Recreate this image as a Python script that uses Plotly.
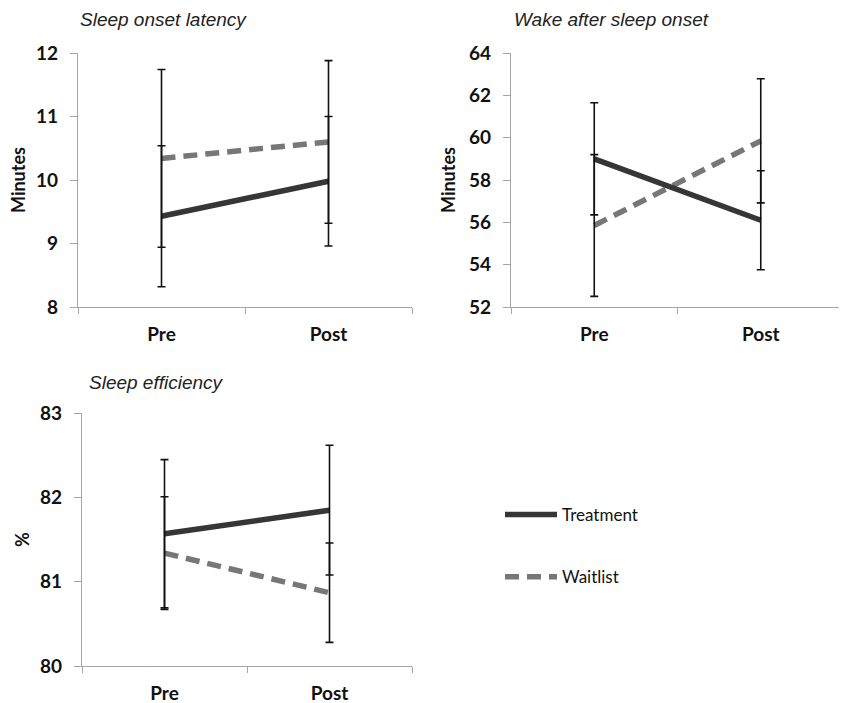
import plotly.graph_objects as go

W, H = 847, 703
OFF = 8  # page body margin offset

categories = ["Pre", "Post"]

# Sleep onset latency (minutes)
sol_treatment = [9.43, 9.98]
sol_treatment_err = [1.11, 1.02]
sol_waitlist = [10.34, 10.60]
sol_waitlist_err = [1.40, 1.28]

# Wake after sleep onset (minutes)
waso_treatment = [59.0, 56.1]
waso_treatment_err = [2.65, 2.34]
waso_waitlist = [55.85, 59.85]
waso_waitlist_err = [3.35, 2.93]

# Sleep efficiency (%)
se_treatment = [81.57, 81.85]
se_treatment_err = [0.88, 0.77]
se_waitlist = [81.34, 80.87]
se_waitlist_err = [0.67, 0.59]

panel_titles = ["Sleep onset latency", "Wake after sleep onset", "Sleep efficiency"]
y_titles = ["Minutes", "Minutes", "%"]
y_ranges = [[8, 12], [52, 64], [80, 83]]
y_dticks = [1, 2, 1]
series_names = ["Treatment", "Waitlist"]

TREAT_COLOR = "#363636"
WAIT_COLOR = "#777777"
AXIS_COLOR = "#a6a6a6"
FONT_BOLD = "Lato"


def px(xp):
    return (xp - OFF) / W


def py(yp):
    return 1 - (yp - OFF) / H


panels = [
    (sol_treatment, sol_treatment_err, sol_waitlist, sol_waitlist_err),
    (waso_treatment, waso_treatment_err, waso_waitlist, waso_waitlist_err),
    (se_treatment, se_treatment_err, se_waitlist, se_waitlist_err),
]

fig = go.Figure()

for i, (tv, te, wv, we) in enumerate(panels):
    xa = "x" if i == 0 else f"x{i+1}"
    ya = "y" if i == 0 else f"y{i+1}"
    show = i == 0
    fig.add_trace(go.Scatter(
        x=categories, y=wv, mode="lines", name=series_names[1],
        line=dict(color=WAIT_COLOR, width=5.5, dash="14px,8px"),
        xaxis=xa, yaxis=ya, showlegend=show, legendgroup="w", legendrank=2,
        hoverinfo="skip"))
    fig.add_trace(go.Scatter(
        x=categories, y=tv, mode="lines", name=series_names[0],
        line=dict(color=TREAT_COLOR, width=5.5),
        xaxis=xa, yaxis=ya, showlegend=show, legendgroup="t", legendrank=1,
        hoverinfo="skip"))
    for vals, errs in ((wv, we), (tv, te)):
        fig.add_trace(go.Scatter(
            x=categories, y=vals, mode="markers",
            marker=dict(size=1, opacity=0),
            error_y=dict(type="data", array=errs, symmetric=True,
                         color="#111111", thickness=1.6, width=4),
            xaxis=xa, yaxis=ya, showlegend=False, hoverinfo="skip"))

x_domains = [[px(78), px(412)], [px(511), px(844)], [px(82), px(412)]]
y_domains = [[py(307), py(53)], [py(307), py(53)], [py(666), py(413.3)]]

layout = dict(
    width=W, height=H,
    margin=dict(l=0, r=0, t=0, b=0, autoexpand=False),
    paper_bgcolor="white", plot_bgcolor="white",
    font=dict(family=FONT_BOLD, color="#000000"),
    legend=dict(x=px(500), y=py(497), xanchor="left", yanchor="top",
                font=dict(family="Lato", size=17, color="#111111"),
                tracegroupgap=37, traceorder="grouped", bgcolor="rgba(0,0,0,0)",
                itemwidth=52),
    annotations=[],
)

title_pos = [(78, 20), (512, 20), (87, 382)]
ytitle_pos = [(18, 180), (448, 180), (22, 540)]

for i in range(3):
    xk = "xaxis" if i == 0 else f"xaxis{i+1}"
    yk = "yaxis" if i == 0 else f"yaxis{i+1}"
    ya = "y" if i == 0 else f"y{i+1}"
    xa = "x" if i == 0 else f"x{i+1}"
    layout[xk] = dict(
        domain=x_domains[i], anchor=ya, type="category",
        categoryorder="array", categoryarray=categories,
        range=[-0.5, 1.5], tickson="boundaries", automargin=False,
        showline=True, linecolor=AXIS_COLOR, linewidth=1.2,
        ticks="outside", ticklen=6, tickcolor=AXIS_COLOR, tickwidth=1.2,
        showgrid=False, zeroline=False, ticklabelstandoff=10,
        tickfont=dict(family=FONT_BOLD, size=19, color="#111111", weight="bold"),
    )
    layout[yk] = dict(
        domain=y_domains[i], anchor=xa, range=y_ranges[i], dtick=y_dticks[i],
        tick0=y_ranges[i][0], automargin=False,
        showline=True, linecolor=AXIS_COLOR, linewidth=1.2,
        ticks="outside", ticklen=7, tickcolor=AXIS_COLOR, tickwidth=1.2,
        showgrid=False, zeroline=False, ticklabelstandoff=8,
        tickfont=dict(family=FONT_BOLD, size=19, color="#111111", weight="bold"),
    )
    tx, ty = title_pos[i]
    layout["annotations"].append(dict(
        text=f"<i>{panel_titles[i]}</i>", xref="paper", yref="paper",
        x=px(tx), y=py(ty), xanchor="left", yanchor="middle",
        showarrow=False,
        font=dict(family="Liberation Sans", size=19, color="#222222")))
    yx, yy = ytitle_pos[i]
    layout["annotations"].append(dict(
        text=f"<b>{y_titles[i]}</b>", xref="paper", yref="paper",
        x=px(yx), y=py(yy), xanchor="center", yanchor="middle",
        textangle=-90, showarrow=False,
        font=dict(family=FONT_BOLD, size=18, color="#111111")))

fig.update_layout(**layout)
fig.write_html("out.html")
